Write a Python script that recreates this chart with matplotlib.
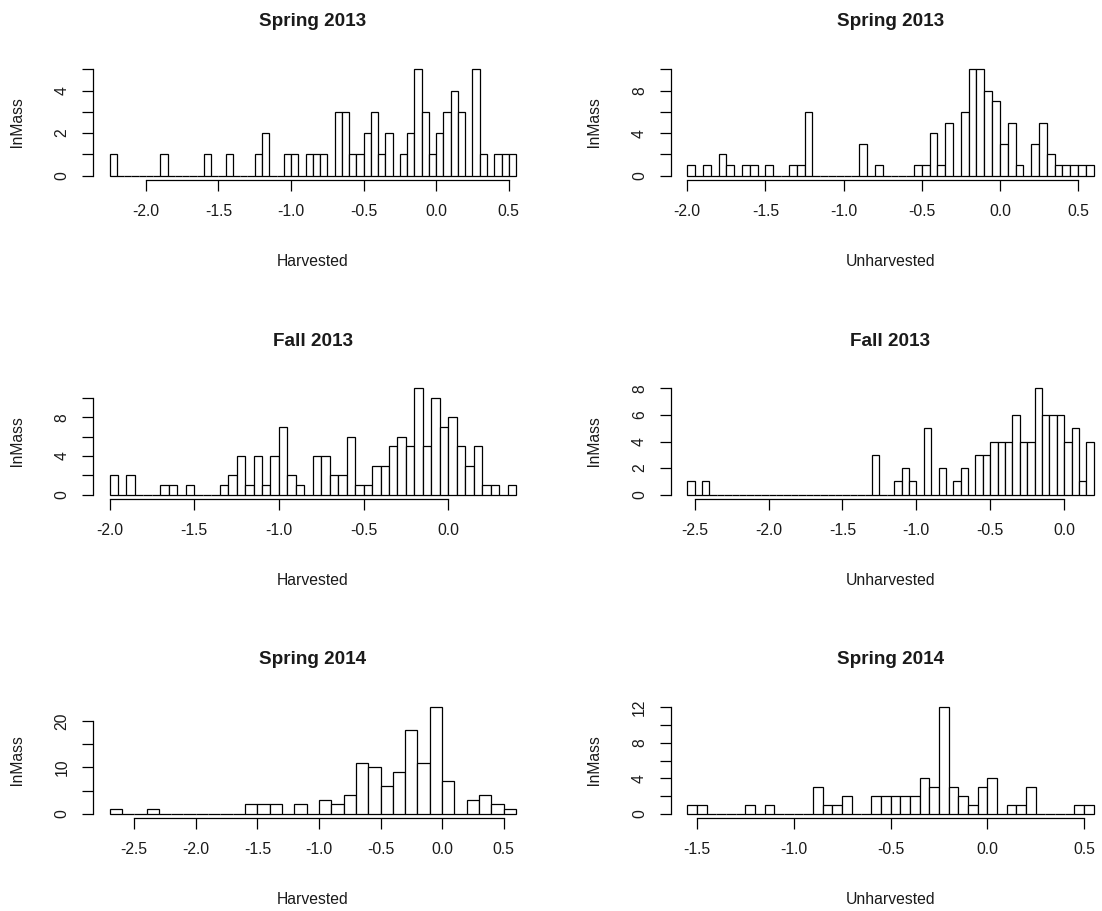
import matplotlib
matplotlib.use('Agg')
import matplotlib.pyplot as plt
import numpy as np

plt.rcParams['font.family'] = ['Liberation Sans', 'DejaVu Sans']

W, H = 1102, 911

# ---------------- data ----------------
titles = ["Spring 2013", "Spring 2013", "Fall 2013", "Fall 2013", "Spring 2014", "Spring 2014"]
xlabels = ["Harvested", "Unharvested", "Harvested", "Unharvested", "Harvested", "Unharvested"]
ylabel = "lnMass"

# Spring 2013, Harvested (breaks start, bin width, counts)
sp13_h_start, sp13_h_width = -2.25, 0.05
sp13_h_counts = [1, 0, 0, 0, 0, 0, 0, 1, 0, 0, 0, 0, 0, 1, 0, 0, 1, 0, 0, 0,
                 1, 2, 0, 0, 1, 1, 0, 1, 1, 1, 0, 3, 3, 1, 1, 2, 3, 1, 2, 0,
                 1, 2, 5, 3, 1, 2, 3, 4, 3, 0, 5, 1, 0, 1, 1, 1]
sp13_h_xticks = [-2.0, -1.5, -1.0, -0.5, 0.0, 0.5]
sp13_h_yticks = [0, 1, 2, 3, 4, 5]
sp13_h_ylabs = ["0", "", "2", "", "4", ""]

# Spring 2013, Unharvested
sp13_u_start, sp13_u_width = -2.0, 0.05
sp13_u_counts = [1, 0, 1, 0, 2, 1, 0, 1, 1, 0, 1, 0, 0, 1, 1, 6, 0, 0, 0, 0,
                 0, 0, 3, 0, 1, 0, 0, 0, 0, 1, 1, 4, 1, 5, 0, 6, 10, 10, 8, 7,
                 3, 5, 1, 0, 3, 5, 2, 1, 1, 1, 1, 1]
sp13_u_xticks = [-2.0, -1.5, -1.0, -0.5, 0.0, 0.5]
sp13_u_yticks = [0, 2, 4, 6, 8, 10]
sp13_u_ylabs = ["0", "", "4", "", "8", ""]

# Fall 2013, Harvested
fa13_h_start, fa13_h_width = -2.0, 0.05
fa13_h_counts = [2, 0, 2, 0, 0, 0, 1, 1, 0, 1, 0, 0, 0, 1, 2, 4, 1, 4, 1, 4,
                 7, 2, 1, 0, 4, 4, 2, 2, 6, 1, 1, 3, 3, 5, 6, 5, 11, 5, 10, 7,
                 8, 5, 3, 5, 1, 1, 0, 1]
fa13_h_xticks = [-2.0, -1.5, -1.0, -0.5, 0.0]
fa13_h_yticks = [0, 2, 4, 6, 8, 10]
fa13_h_ylabs = ["0", "", "4", "", "8", ""]

# Fall 2013, Unharvested
fa13_u_start, fa13_u_width = -2.55, 0.05
fa13_u_counts = [1, 0, 1, 0, 0, 0, 0, 0, 0, 0, 0, 0, 0, 0, 0, 0, 0, 0, 0, 0,
                 0, 0, 0, 0, 0, 3, 0, 0, 1, 2, 1, 0, 5, 0, 2, 0, 1, 2, 0, 3,
                 3, 4, 4, 4, 6, 4, 4, 8, 6, 6, 6, 4, 5, 1, 4]
fa13_u_xticks = [-2.5, -2.0, -1.5, -1.0, -0.5, 0.0]
fa13_u_yticks = [0, 2, 4, 6, 8]
fa13_u_ylabs = ["0", "2", "4", "6", "8"]

# Spring 2014, Harvested
sp14_h_start, sp14_h_width = -2.7, 0.1
sp14_h_counts = [1, 0, 0, 1, 0, 0, 0, 0, 0, 0, 0, 2, 2, 2, 0, 2, 0, 3, 2, 4,
                 11, 10, 6, 9, 18, 11, 23, 7, 0, 3, 4, 2, 1]
sp14_h_xticks = [-2.5, -2.0, -1.5, -1.0, -0.5, 0.0, 0.5]
sp14_h_yticks = [0, 5, 10, 15, 20]
sp14_h_ylabs = ["0", "", "10", "", "20"]

# Spring 2014, Unharvested
sp14_u_start, sp14_u_width = -1.55, 0.05
sp14_u_counts = [1, 1, 0, 0, 0, 0, 1, 0, 1, 0, 0, 0, 0, 3, 1, 1, 2, 0, 0, 2,
                 2, 2, 2, 2, 4, 3, 12, 3, 2, 1, 3, 4, 0, 1, 1, 3, 0, 0, 0, 0,
                 1, 1]
sp14_u_xticks = [-1.5, -1.0, -0.5, 0.0, 0.5]
sp14_u_yticks = [0, 2, 4, 6, 8, 10, 12]
sp14_u_ylabs = ["0", "", "4", "", "8", "", "12"]

panels = [
    (sp13_h_start, sp13_h_width, sp13_h_counts, sp13_h_xticks, sp13_h_yticks, sp13_h_ylabs),
    (sp13_u_start, sp13_u_width, sp13_u_counts, sp13_u_xticks, sp13_u_yticks, sp13_u_ylabs),
    (fa13_h_start, fa13_h_width, fa13_h_counts, fa13_h_xticks, fa13_h_yticks, fa13_h_ylabs),
    (fa13_u_start, fa13_u_width, fa13_u_counts, fa13_u_xticks, fa13_u_yticks, fa13_u_ylabs),
    (sp14_h_start, sp14_h_width, sp14_h_counts, sp14_h_xticks, sp14_h_yticks, sp14_h_ylabs),
    (sp14_u_start, sp14_u_width, sp14_u_counts, sp14_u_xticks, sp14_u_yticks, sp14_u_ylabs),
]

# ---------------- layout (pixels) ----------------
col_x0 = [93.3, 671.0]
row_y0 = [65.0, 384.0, 703.0]
pw, ph = 439.0, 115.0

fig = plt.figure(figsize=(W / 100, H / 100), dpi=100)
fig.patch.set_facecolor('white')

txt_color = '#1a1a1a'
fs = 11.3

for i, (start, width, counts, xt, yt, ylabs) in enumerate(panels):
    r, c = divmod(i, 2)
    x0, y0 = col_x0[c], row_y0[r]
    ax = fig.add_axes([x0 / W, 1 - (y0 + ph) / H, pw / W, ph / H])
    counts = np.asarray(counts)
    edges = start + width * np.arange(len(counts) + 1)
    ax.bar(edges[:-1], counts, width=width, align='edge', facecolor='white',
           edgecolor='black', linewidth=0.9)
    lo, hi = edges[0], edges[-1]
    ext = 0.04 * (hi - lo)
    ax.set_xlim(lo - ext, hi + ext)
    ymax = counts.max()
    ax.set_ylim(-0.04 * ymax, 1.04 * ymax)
    for s in ['top', 'right']:
        ax.spines[s].set_visible(False)
    ax.spines['bottom'].set_bounds(xt[0], xt[-1])
    ax.spines['left'].set_bounds(yt[0], yt[-1])
    for s in ['bottom', 'left']:
        ax.spines[s].set_linewidth(0.9)
    ax.set_xticks(xt)
    ax.set_xticklabels([f"{v:.1f}" for v in xt])
    ax.set_yticks(yt)
    ax.set_yticklabels(ylabs, rotation=90, va='center')
    ax.tick_params(direction='out', length=7.7, width=0.9, pad=9.5,
                   labelsize=fs, colors='black', labelcolor=txt_color)
    ax.patch.set_visible(False)
    ax.text(0.5, 1 + 43 / ph, titles[i], transform=ax.transAxes, ha='center',
            va='center', fontsize=13.6, fontweight='bold', color=txt_color)
    ax.text(0.5, -82 / ph, xlabels[i], transform=ax.transAxes, ha='center',
            va='center', fontsize=fs, color=txt_color)
    ax.text(-76 / pw, 0.5, ylabel, transform=ax.transAxes, ha='center',
            va='center', rotation=90, fontsize=fs, color=txt_color)

fig.savefig('out.png', dpi=100, facecolor='white')
